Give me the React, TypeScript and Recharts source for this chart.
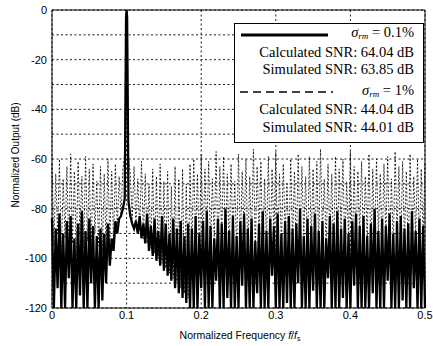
import React from 'react';
import { LineChart, Line, XAxis, YAxis, CartesianGrid, Legend, ReferenceLine } from 'recharts';

// Normalized frequency f/fs (categories)
const freq = [
  0, 0.0025, 0.005, 0.0075, 0.01, 0.0125, 0.015, 0.0175, 0.02, 0.0225,
  0.025, 0.0275, 0.03, 0.0325, 0.035, 0.0375, 0.04, 0.0425, 0.045, 0.0475,
  0.05, 0.0525, 0.055, 0.0575, 0.06, 0.0625, 0.065, 0.0675, 0.07, 0.0725,
  0.075, 0.0775, 0.08, 0.0825, 0.085, 0.0875, 0.09, 0.0925, 0.095, 0.0975,
  0.0993, 0.1, 0.1007,
  0.1025, 0.105, 0.1075, 0.11, 0.1125, 0.115, 0.1175, 0.12, 0.1225,
  0.125, 0.1275, 0.13, 0.1325, 0.135, 0.1375, 0.14, 0.1425, 0.145, 0.1475,
  0.15, 0.1525, 0.155, 0.1575, 0.16, 0.1625, 0.165, 0.1675, 0.17, 0.1725,
  0.175, 0.1775, 0.18, 0.1825, 0.185, 0.1875, 0.19, 0.1925, 0.195, 0.1975,
  0.2, 0.2025, 0.205, 0.2075, 0.21, 0.2125, 0.215, 0.2175, 0.22, 0.2225,
  0.225, 0.2275, 0.23, 0.2325, 0.235, 0.2375, 0.24, 0.2425, 0.245, 0.2475,
  0.25, 0.2525, 0.255, 0.2575, 0.26, 0.2625, 0.265, 0.2675, 0.27, 0.2725,
  0.275, 0.2775, 0.28, 0.2825, 0.285, 0.2875, 0.29, 0.2925, 0.295, 0.2975,
  0.3, 0.3025, 0.305, 0.3075, 0.31, 0.3125, 0.315, 0.3175, 0.32, 0.3225,
  0.325, 0.3275, 0.33, 0.3325, 0.335, 0.3375, 0.34, 0.3425, 0.345, 0.3475,
  0.35, 0.3525, 0.355, 0.3575, 0.36, 0.3625, 0.365, 0.3675, 0.37, 0.3725,
  0.375, 0.3775, 0.38, 0.3825, 0.385, 0.3875, 0.39, 0.3925, 0.395, 0.3975,
  0.4, 0.4025, 0.405, 0.4075, 0.41, 0.4125, 0.415, 0.4175, 0.42, 0.4225,
  0.425, 0.4275, 0.43, 0.4325, 0.435, 0.4375, 0.44, 0.4425, 0.445, 0.4475,
  0.45, 0.4525, 0.455, 0.4575, 0.46, 0.4625, 0.465, 0.4675, 0.47, 0.4725,
  0.475, 0.4775, 0.48, 0.4825, 0.485, 0.4875, 0.49, 0.4925, 0.495, 0.4975,
  0.5,
];

// sigma_rm = 0.1 % (solid)
const spectrumLow = [
  -84, -120, -88, -112, -82, -120, -90, -120, -85, -108,
  -83, -120, -92, -120, -86, -115, -81, -120, -89, -120,
  -84, -110, -87, -120, -91, -120, -88, -117, -90, -110,
  -86, -103, -92, -97, -85, -90, -84, -83, -80, -76,
  -3, 0, -3,
  -77, -83, -86, -88, -85, -90, -83, -92, -86,
  -94, -82, -97, -87, -99, -84, -101, -89, -103, -83,
  -105, -86, -107, -90, -109, -84, -112, -88, -114, -85,
  -116, -91, -118, -86, -120, -88, -120, -83, -120, -90,
  -112, -85, -120, -81, -120, -87, -120, -92, -109, -84,
  -120, -86, -120, -80, -116, -89, -120, -83, -120, -91,
  -120, -85, -111, -82, -120, -88, -120, -84, -120, -93,
  -114, -86, -120, -81, -120, -89, -120, -84, -107, -87,
  -120, -82, -120, -90, -120, -85, -118, -83, -120, -88,
  -120, -86, -110, -80, -120, -91, -120, -84, -120, -87,
  -113, -82, -120, -89, -120, -85, -120, -92, -108, -83,
  -120, -86, -120, -81, -120, -88, -116, -84, -120, -90,
  -120, -85, -111, -82, -120, -87, -120, -83, -120, -91,
  -120, -86, -114, -80, -120, -89, -120, -84, -120, -87,
  -109, -82, -120, -90, -120, -85, -120, -83, -117, -88,
  -120, -86, -120, -81, -112, -89, -120, -84, -120, -87,
  -120,
];

// sigma_rm = 1 % (dashed)
const spectrumHigh = [
  -62, -95, -66, -90, -60, -100, -68, -92, -63, -97,
  -58, -94, -65, -99, -61, -91, -67, -96, -59, -93,
  -64, -98, -62, -90, -69, -95, -63, -98, -66, -96,
  -60, -94, -65, -93, -62, -88, -67, -83, -64, -58,
  -3, 0, -3,
  -59, -66, -84, -63, -87, -68, -89, -61, -92,
  -66, -94, -70, -96, -64, -98, -67, -100, -62, -102,
  -69, -104, -65, -106, -71, -108, -63, -110, -68, -112,
  -64, -114, -70, -116, -62, -97, -60, -92, -66, -99,
  -58, -94, -64, -90, -61, -96, -68, -93, -57, -100,
  -63, -91, -59, -95, -66, -98, -62, -92, -69, -97,
  -58, -94, -65, -90, -60, -99, -67, -93, -56, -96,
  -63, -91, -61, -98, -68, -94, -59, -97, -64, -92,
  -57, -100, -66, -95, -62, -90, -70, -96, -60, -93,
  -65, -99, -58, -94, -63, -91, -67, -97, -59, -92,
  -64, -98, -61, -95, -56, -90, -68, -96, -62, -93,
  -66, -99, -59, -94, -64, -91, -60, -97, -69, -92,
  -57, -98, -63, -95, -65, -90, -61, -96, -67, -93,
  -58, -99, -64, -94, -60, -91, -66, -97, -62, -92,
  -59, -98, -68, -95, -57, -90, -63, -96, -61, -93,
  -65, -99, -58, -94, -67, -91, -60, -97, -64, -92,
  -62,
];

const xTicks = [0, 0.1, 0.2, 0.3, 0.4, 0.5];
const yTicks = [0, -10, -20, -30, -40, -50, -60, -70, -80, -90, -100, -110, -120];
const yLabeled = [0, -20, -40, -60, -80, -100, -120];

const legendRows = [
  { kind: 'solid', sigma: '0.1%' },
  { text: 'Calculated SNR: 64.04 dB' },
  { text: 'Simulated SNR: 63.85 dB' },
  { kind: 'dashed', sigma: '1%' },
  { text: 'Calculated SNR: 44.04 dB' },
  { text: 'Simulated SNR: 44.01 dB' },
];

const rows = freq.map((f, i) => ({ f, low: spectrumLow[i], high: spectrumHigh[i] }));

const sans = '"Liberation Sans", Arial, Helvetica, sans-serif';
const serif = '"Liberation Serif", "Times New Roman", serif';

const LegendBox = () => (
  <div
    style={{
      boxSizing: 'border-box',
      width: 190,
      height: 120,
      border: '1.6px solid #000',
      background: '#fff',
      fontFamily: serif,
      fontSize: 14.5,
      color: '#000',
      padding: '2px 9px 0 5px',
      lineHeight: '17.5px',
    }}
  >
    {legendRows.map((r, i) => (
      <div
        key={i}
        style={{
          display: 'flex',
          justifyContent: 'flex-end',
          alignItems: 'center',
          height: 17.5,
          marginTop: i === 3 ? 5 : 0,
          whiteSpace: 'nowrap',
        }}
      >
        {r.kind ? (
          <>
            <svg width={95} height={8} style={{ marginRight: 8, flex: 'none' }}>
              {r.kind === 'solid' ? (
                <line x1={1} y1={4} x2={88} y2={4} stroke="#000" strokeWidth={3} />
              ) : (
                <line x1={0} y1={4} x2={93} y2={4} stroke="#000" strokeWidth={1.3} strokeDasharray="8 5" />
              )}
            </svg>
            <span style={{ flex: 1 }} />
            <span>
              <i>σ</i>
              <sub style={{ fontSize: 9, fontStyle: 'italic', verticalAlign: -2 }}>rm</sub>
              {' = ' + r.sigma}
            </span>
          </>
        ) : (
          <span>{r.text}</span>
        )}
      </div>
    ))}
  </div>
);

const renderYLabel = () => (
  <text
    x={15}
    y={155}
    transform="rotate(-90, 15, 155)"
    textAnchor="middle"
    dominantBaseline="central"
    fontFamily={sans}
    fontSize={10}
    fill="#000"
  >
    Normalized Output (dB)
  </text>
);

const renderXLabel = () => (
  <text x={240} y={335} textAnchor="middle" dominantBaseline="central" fontFamily={sans} fontSize={10.5} fill="#000">
    Normalized Frequency <tspan fontStyle="italic">f</tspan>/<tspan fontStyle="italic">f</tspan>
    <tspan fontSize={7} dy={3}>s</tspan>
  </text>
);

export default function App() {
  return (
    <div style={{ position: 'absolute', left: 0, top: 0, width: 433, height: 346, background: '#fff' }}>
      <LineChart width={433} height={346} data={rows} margin={{ top: 10, right: 8, bottom: 0, left: 0 }}>
        <CartesianGrid stroke="#000" strokeWidth={0.9} strokeDasharray="2 2.5" />
        <XAxis
          dataKey="f"
          type="number"
          domain={[0, 0.5]}
          ticks={xTicks}
          tickFormatter={(v: number) => String(v)}
          height={38}
          tickLine={false}
          tickSize={0}
          tickMargin={3}
          axisLine={{ stroke: '#000', strokeWidth: 1 }}
          tick={{ fill: '#000', fontSize: 11, fontFamily: sans }}
          label={renderXLabel}
          interval={0}
        />
        <YAxis
          type="number"
          domain={[-120, 0]}
          ticks={yTicks}
          tickFormatter={(v: number) => (yLabeled.includes(v) ? String(v) : '')}
          width={52}
          tickLine={false}
          tickSize={0}
          tickMargin={5}
          axisLine={{ stroke: '#000', strokeWidth: 1 }}
          tick={{ fill: '#000', fontSize: 11, fontFamily: sans }}
          label={renderYLabel}
          interval={0}
          allowDataOverflow
        />
        <ReferenceLine y={0} stroke="#000" strokeWidth={1} />
        <ReferenceLine x={0.5} stroke="#000" strokeWidth={1} />
        <Line
          dataKey="high"
          type="linear"
          stroke="#000"
          strokeWidth={0.8}
          strokeDasharray="2 1.8"
          dot={false}
          isAnimationActive={false}
        />
        <Line
          dataKey="low"
          type="linear"
          stroke="#000"
          strokeWidth={2.3}
          dot={false}
          isAnimationActive={false}
        />
        <Legend
          verticalAlign="middle"
          layout="horizontal"
          content={() => <LegendBox />}
          wrapperStyle={{ left: 234, top: 23, width: 190, height: 120 }}
        />
      </LineChart>
    </div>
  );
}
